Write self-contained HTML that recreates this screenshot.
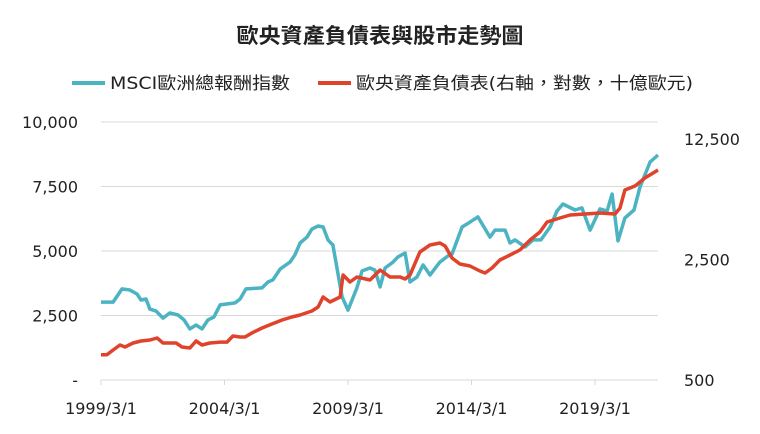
<!DOCTYPE html>
<html><head><meta charset="utf-8">
<style>
html,body{margin:0;padding:0;background:#fff;}
body{width:760px;height:430px;overflow:hidden;font-family:"DejaVu Sans","Noto Sans CJK TC",sans-serif;}
</style></head>
<body>
<svg id="chart" width="760" height="430" xmlns="http://www.w3.org/2000/svg" font-family="DejaVu Sans, Noto Sans CJK TC, sans-serif">
<text x="380" y="43" text-anchor="middle" font-size="21" font-weight="bold" fill="#222" textLength="287" lengthAdjust="spacingAndGlyphs">歐央資產負債表與股市走勢圖</text>
<g>
<line x1="72" y1="83" x2="105" y2="83" stroke="#4cb3c2" stroke-width="4"/>
<text x="110" y="89" font-size="17" fill="#222" textLength="180" lengthAdjust="spacingAndGlyphs">MSCI歐洲總報酬指數</text>
<line x1="318" y1="83" x2="351" y2="83" stroke="#e0432b" stroke-width="4"/>
<text x="356" y="89" font-size="17" fill="#222" textLength="337" lengthAdjust="spacingAndGlyphs">歐央資產負債表(右軸，對數，十億歐元)</text>
</g>
<g id="grid"></g><g id="axes"></g><g id="series"></g>
</svg>
<script>
const leftTicks=[0,2500,5000,7500,10000];
const leftTickLabels=["-","2,500","5,000","7,500","10,000"];
const rightTicks=[500,2500,12500];
const rightTickLabels=["500","2,500","12,500"];
const xTicks=[1999.17,2004.17,2009.17,2014.17,2019.17];
const xTickLabels=["1999/3/1","2004/3/1","2009/3/1","2014/3/1","2019/3/1"];
const msciDates=[1999.17,1999.66,2000.02,2000.34,2000.63,2000.79,2000.99,2001.15,2001.40,2001.68,2001.96,2002.29,2002.53,2002.77,2003.02,2003.26,2003.50,2003.74,2003.99,2004.60,2004.80,2005.04,2005.69,2005.93,2006.13,2006.42,2006.82,2007.02,2007.23,2007.51,2007.71,2007.96,2008.16,2008.36,2008.56,2008.93,2009.17,2009.53,2009.74,2010.06,2010.26,2010.47,2010.67,2010.99,2011.19,2011.48,2011.68,2011.96,2012.21,2012.49,2012.89,2013.22,2013.38,2013.79,2014.11,2014.43,2014.92,2015.12,2015.53,2015.73,2015.93,2016.34,2016.66,2016.98,2017.35,2017.63,2017.87,2018.36,2018.64,2018.97,2019.37,2019.66,2019.86,2020.10,2020.38,2020.75,2020.99,2021.40,2021.72];
const msciValues=[3020,3020,3530,3490,3330,3100,3140,2750,2670,2400,2600,2520,2330,1980,2130,1980,2330,2440,2910,2990,3140,3530,3570,3800,3880,4300,4570,4850,5310,5540,5850,5970,5930,5430,5230,3220,2710,3570,4230,4340,4260,3610,4340,4570,4770,4920,3800,3990,4460,4070,4570,4810,4880,5930,6120,6320,5540,5810,5810,5310,5430,5160,5430,5430,5930,6550,6820,6590,6670,5810,6630,6550,7210,5390,6280,6590,7480,8450,8720];
const ecbDates=[1999.17,1999.41,1999.66,1999.94,2000.14,2000.47,2000.79,2001.15,2001.44,2001.68,2001.96,2002.21,2002.45,2002.77,2003.02,2003.26,2003.58,2003.99,2004.27,2004.51,2004.80,2005.00,2005.28,2005.69,2006.09,2006.50,2006.90,2007.23,2007.71,2007.96,2008.16,2008.44,2008.85,2008.97,2009.25,2009.53,2010.06,2010.47,2010.87,2011.28,2011.48,2011.68,2012.08,2012.49,2012.89,2013.10,2013.38,2013.70,2014.11,2014.51,2014.72,2015.00,2015.32,2015.73,2016.13,2016.54,2016.94,2017.23,2017.75,2018.16,2018.77,2019.37,2019.98,2020.18,2020.38,2020.79,2021.19,2021.72];
const ecbValues=[700,700,746,798,777,820,842,853,876,820,820,820,777,767,842,798,820,830,830,900,888,888,937,1001,1056,1114,1160,1191,1257,1326,1515,1417,1515,2032,1851,1979,1901,2173,1979,1979,1927,2032,2763,3034,3117,2994,2551,2354,2292,2144,2088,2232,2484,2655,2838,3244,3610,4126,4352,4530,4590,4652,4590,4972,6327,6671,7425,8262];

const X0=101,X1=658,D0=1999.17,D1=2021.72;
const x=d=>X0+(d-D0)/(D1-D0)*(X1-X0);
const yL=v=>380-v/10000*258;
const yR=v=>380-(Math.log(v/500)/Math.log(25))*241;
const NS="http://www.w3.org/2000/svg";
function mk(tag,attrs,parent,txt){const e=document.createElementNS(NS,tag);for(const k in attrs)e.setAttribute(k,attrs[k]);if(txt!==undefined)e.textContent=txt;parent.appendChild(e);return e;}
const grid=document.getElementById('grid'),axes=document.getElementById('axes'),series=document.getElementById('series');
leftTicks.forEach((t,i)=>{
  const g=mk('line',{x1:X0,x2:X1,y1:yL(t),y2:yL(t),stroke:'#d9d9d9','stroke-width':1},grid);
  
  
  const l=mk('text',{x:78,y:yL(t)+6,'text-anchor':'end','font-size':16,fill:'#222'},axes,leftTickLabels[i]);
  
  
});
rightTicks.forEach((t,i)=>{
  const l=mk('text',{x:684,y:yR(t)+6,'text-anchor':'start','font-size':16,fill:'#222'},axes,rightTickLabels[i]);
  
  
});
xTicks.forEach((t,i)=>{
  const tk=mk('line',{x1:x(t),x2:x(t),y1:380,y2:385,stroke:'#d9d9d9','stroke-width':1},axes);
  
  
  const l=mk('text',{x:x(t),y:414,'text-anchor':'middle','font-size':16,fill:'#222'},axes,xTickLabels[i]);
  
  
});
const p1=mk('polyline',{points:msciDates.map((d,i)=>x(d).toFixed(1)+','+yL(msciValues[i]).toFixed(1)).join(' '),fill:'none',stroke:'#4cb3c2','stroke-width':3.5,'stroke-linejoin':'round'},series);


const p2=mk('polyline',{points:ecbDates.map((d,i)=>x(d).toFixed(1)+','+yR(ecbValues[i]).toFixed(1)).join(' '),fill:'none',stroke:'#e0432b','stroke-width':3.5,'stroke-linejoin':'round'},series);


</script>
</body></html>
